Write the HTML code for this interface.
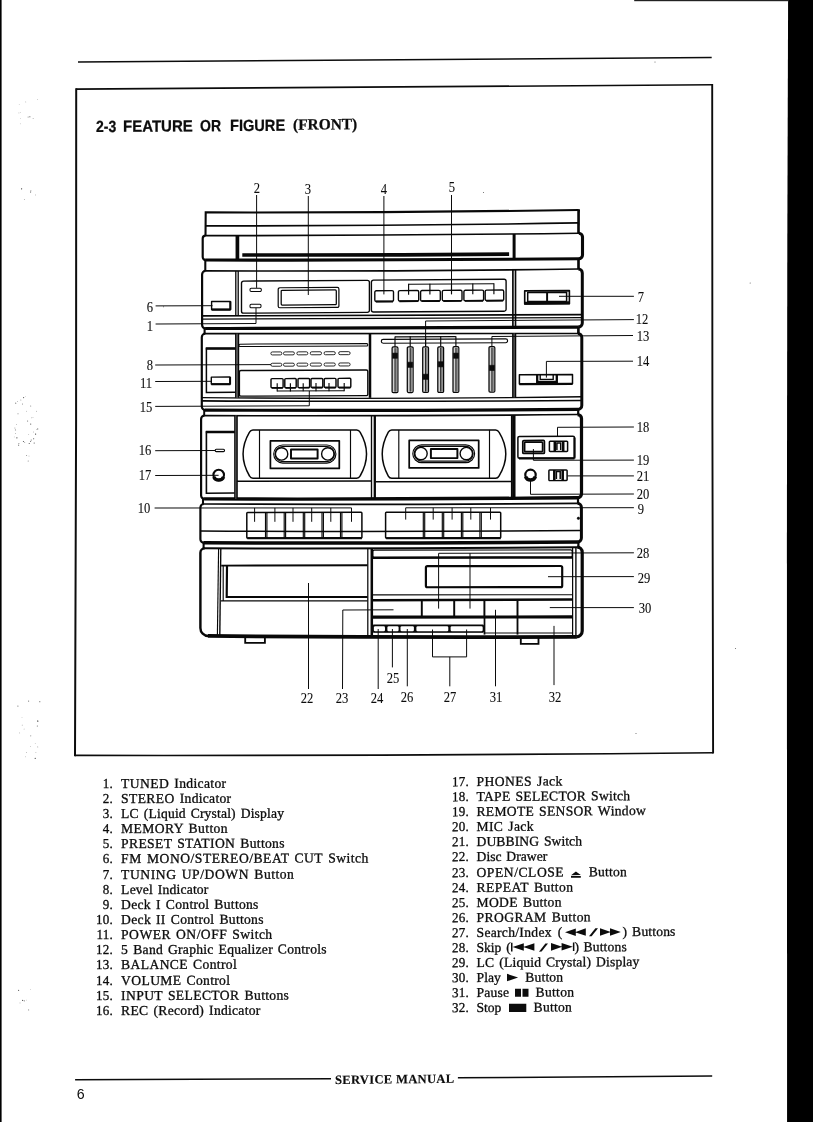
<!DOCTYPE html>
<html><head><meta charset="utf-8"><title>2-3 Feature or Figure (Front)</title>
<style>
html,body{margin:0;padding:0;background:#fff;}
body{width:813px;height:1122px;position:relative;overflow:hidden;font-family:"Liberation Serif",serif;color:#0c0c0c;}
#pg{position:absolute;left:0;top:0;width:813px;height:1122px;}
#tx{position:absolute;left:0;top:0;width:813px;height:1122px;will-change:transform;}
.t{position:absolute;white-space:nowrap;line-height:1;}
.ln{position:absolute;left:0;width:813px;white-space:nowrap;}
.p{position:absolute;top:0;white-space:pre;}
.title{height:20px;line-height:20px;transform:skewY(-0.38deg);-webkit-text-stroke:0.25px #0c0c0c;}
.tb{font-family:"Liberation Sans",sans-serif;font-weight:bold;font-size:16.2px;line-height:20px;top:0.4px;}
.ts{font-family:"Liberation Serif",serif;font-weight:bold;font-size:15.7px;line-height:20px;top:0.25px;}
.li{font-size:13.6px;height:15px;line-height:15px;transform:skewY(-0.14deg);-webkit-text-stroke:0.3px #0c0c0c;}
.lr{transform:skewY(-0.34deg);}
.li .n{position:absolute;top:0;width:30px;text-align:right;letter-spacing:0.25px;transform:scaleX(0.96);transform-origin:100% 50%;}
.u{letter-spacing:calc(var(--x,0px) + 0.06px);}
.sy{position:absolute;display:block;overflow:visible;}
.foot{height:16px;line-height:16px;transform:skewY(-0.6deg);-webkit-text-stroke:0.15px #0c0c0c;}
.ft{font-weight:bold;font-size:12.6px;line-height:16px;}
.pg{font-family:"Liberation Sans",sans-serif;font-size:14.2px;}
.c{position:absolute;white-space:nowrap;line-height:1;font-size:14.3px;-webkit-text-stroke:0.08px #0c0c0c;transform:translate(-50%,-50%) scaleX(0.88);}
</style></head>
<body>
<svg id="pg" width="813" height="1122" viewBox="0 0 813 1122">
<polygon points="788.1,0 813,0 813,1122 787.1,1122 786.9,540 787.3,250" fill="#000"/>
<rect x="634.2" y="0" width="154" height="1.2" fill="#222"/>
<rect x="0" y="0" width="1.6" height="1122" fill="#000"/>
<circle cx="25.8" cy="101.9" r="0.35" fill="#555"/>
<circle cx="37.7" cy="99.7" r="0.35" fill="#777"/>
<circle cx="18.9" cy="112.9" r="0.35" fill="#777"/>
<circle cx="20.2" cy="112.6" r="0.35" fill="#777"/>
<circle cx="33.1" cy="118.7" r="0.35" fill="#333"/>
<circle cx="19.2" cy="104.6" r="0.4" fill="#999"/>
<circle cx="28.1" cy="117.1" r="0.5" fill="#777"/>
<circle cx="20.5" cy="118.3" r="0.4" fill="#999"/>
<circle cx="20.3" cy="123.8" r="0.35" fill="#777"/>
<circle cx="29.9" cy="116.7" r="0.5" fill="#333"/>
<circle cx="30.9" cy="190.7" r="0.5" fill="#777"/>
<circle cx="35.5" cy="194.9" r="0.4" fill="#555"/>
<circle cx="30.6" cy="191.9" r="0.5" fill="#333"/>
<circle cx="24.3" cy="199.7" r="0.35" fill="#333"/>
<circle cx="21.6" cy="188.8" r="0.6" fill="#333"/>
<circle cx="14.9" cy="428.1" r="0.5" fill="#999"/>
<circle cx="30.7" cy="424.1" r="0.6" fill="#555"/>
<circle cx="34.2" cy="443.0" r="0.6" fill="#555"/>
<circle cx="15.5" cy="429.9" r="0.6" fill="#999"/>
<circle cx="31.2" cy="439.9" r="0.5" fill="#555"/>
<circle cx="36.6" cy="411.2" r="0.35" fill="#333"/>
<circle cx="15.4" cy="433.5" r="0.4" fill="#777"/>
<circle cx="23.5" cy="441.5" r="0.6" fill="#555"/>
<circle cx="18.0" cy="413.7" r="0.5" fill="#777"/>
<circle cx="33.7" cy="438.7" r="0.5" fill="#333"/>
<circle cx="37.7" cy="428.9" r="0.6" fill="#777"/>
<circle cx="17.6" cy="401.5" r="0.4" fill="#777"/>
<circle cx="14.3" cy="436.9" r="0.4" fill="#999"/>
<circle cx="20.8" cy="399.9" r="0.5" fill="#999"/>
<circle cx="36.9" cy="429.3" r="0.35" fill="#333"/>
<circle cx="35.6" cy="434.1" r="0.6" fill="#333"/>
<circle cx="23.6" cy="397.6" r="0.6" fill="#555"/>
<circle cx="18.6" cy="445.2" r="0.6" fill="#777"/>
<circle cx="16.6" cy="424.4" r="0.35" fill="#555"/>
<circle cx="27.6" cy="421.0" r="0.5" fill="#555"/>
<circle cx="15.7" cy="403.2" r="0.6" fill="#777"/>
<circle cx="29.2" cy="443.6" r="0.5" fill="#333"/>
<circle cx="16.9" cy="437.8" r="0.6" fill="#333"/>
<circle cx="25.6" cy="396.6" r="0.35" fill="#999"/>
<circle cx="31.8" cy="417.8" r="0.4" fill="#555"/>
<circle cx="18.9" cy="443.4" r="0.5" fill="#777"/>
<circle cx="30.6" cy="441.4" r="0.5" fill="#555"/>
<circle cx="30.7" cy="406.1" r="0.5" fill="#777"/>
<circle cx="22.5" cy="404.0" r="0.5" fill="#777"/>
<circle cx="28.7" cy="434.6" r="0.4" fill="#777"/>
<circle cx="33.6" cy="432.0" r="0.4" fill="#777"/>
<circle cx="26.4" cy="411.2" r="0.35" fill="#555"/>
<circle cx="33.0" cy="417.5" r="0.4" fill="#999"/>
<circle cx="24.7" cy="442.6" r="0.5" fill="#999"/>
<circle cx="17.9" cy="706.1" r="0.6" fill="#777"/>
<circle cx="24.1" cy="729.0" r="0.35" fill="#333"/>
<circle cx="37.8" cy="720.6" r="0.35" fill="#555"/>
<circle cx="37.8" cy="746.9" r="0.4" fill="#333"/>
<circle cx="37.3" cy="726.0" r="0.5" fill="#555"/>
<circle cx="35.2" cy="758.3" r="0.6" fill="#333"/>
<circle cx="25.6" cy="756.8" r="0.4" fill="#777"/>
<circle cx="39.8" cy="701.7" r="0.6" fill="#777"/>
<circle cx="30.7" cy="735.8" r="0.6" fill="#999"/>
<circle cx="19.7" cy="732.9" r="0.35" fill="#555"/>
<circle cx="35.2" cy="743.6" r="0.35" fill="#777"/>
<circle cx="26.4" cy="752.3" r="0.4" fill="#555"/>
<circle cx="22.0" cy="717.6" r="0.4" fill="#999"/>
<circle cx="22.2" cy="725.1" r="0.4" fill="#555"/>
<circle cx="37.8" cy="721.2" r="0.6" fill="#333"/>
<circle cx="35.9" cy="752.7" r="0.4" fill="#777"/>
<circle cx="28.6" cy="701.1" r="0.6" fill="#777"/>
<circle cx="30.6" cy="746.6" r="0.4" fill="#777"/>
<circle cx="20.0" cy="1002.9" r="0.35" fill="#555"/>
<circle cx="22.6" cy="1000.4" r="0.6" fill="#555"/>
<circle cx="30.4" cy="989.4" r="0.4" fill="#999"/>
<circle cx="18.6" cy="990.3" r="0.6" fill="#555"/>
<circle cx="28.6" cy="1009.9" r="0.6" fill="#999"/>
<circle cx="26.6" cy="1000.1" r="0.4" fill="#999"/>
<circle cx="24.3" cy="1000.8" r="0.6" fill="#777"/>
<circle cx="28.2" cy="461.1" r="0.5" fill="#777"/>
<circle cx="29.0" cy="456.0" r="0.35" fill="#333"/>
<circle cx="26.7" cy="455.5" r="0.4" fill="#333"/>
<circle cx="483.5" cy="192.5" r="0.55" fill="#666"/>
<circle cx="750.2" cy="283.0" r="0.55" fill="#666"/>
<circle cx="735.5" cy="648.5" r="0.55" fill="#666"/>
<circle cx="163.5" cy="306.8" r="0.55" fill="#666"/>
<circle cx="636.0" cy="733.5" r="0.55" fill="#666"/>
<circle cx="655" cy="62" r="0.55" fill="#666"/>
<path d="M78 62.0 Q394 59.95 711.7 57.5" fill="none" stroke="#0c0c0c" stroke-width="1.6"/>
<path d="M76.2 89.1 Q394.2 87.85 712.2 84.8" fill="none" stroke="#0c0c0c" stroke-width="1.6"/>
<path d="M75.0 755.4 Q394 755.9 713.1 752.8" fill="none" stroke="#0c0c0c" stroke-width="1.6"/>
<path d="M76.2 88.3 L76.1 420 L75.0 756.2" fill="none" stroke="#0c0c0c" stroke-width="2.0"/>
<path d="M712.2 84.0 L712.4 420 L713.1 753.6" fill="none" stroke="#0c0c0c" stroke-width="1.9"/>
<line x1="75.1" y1="1079.8" x2="331.0" y2="1078.7" stroke="#0c0c0c" stroke-width="1.45"/>
<line x1="457.9" y1="1077.8" x2="712.2" y2="1076.0" stroke="#0c0c0c" stroke-width="1.45"/>
<path d="M205.5 236.0 L205.7 212.4 Q392 212.8 578.6 209.95" fill="none" stroke="#080808" stroke-width="2.07" stroke-linejoin="miter"/>
<path d="M578.6 209.95 L578.5 233.6" fill="none" stroke="#080808" stroke-width="2.64" stroke-linejoin="miter"/>
<line x1="578.6" y1="209.2" x2="578.6" y2="211" stroke="#080808" stroke-width="2.64" stroke-linecap="butt"/>
<path d="M205.7 225.9 Q392 226.0 578.5 222.9" fill="none" stroke="#080808" stroke-width="1.61" stroke-linejoin="round"/>
<path d="M205.7 235.6 A3 3 0 0 0 202.7 238.6 L202.7 257 A3 3 0 0 0 205.7 260.01" fill="none" stroke="#080808" stroke-width="2.18" stroke-linejoin="round"/>
<path d="M578.8 233.22 A3.7 3.7 0 0 1 582.5 236.87 L582.5 254.98 A3.7 3.7 0 0 1 578.8 258.71" fill="none" stroke="#080808" stroke-width="3.10" stroke-linejoin="round"/>
<path d="M205.4 235.6 Q392.25 235.58 579.1 233.21" fill="none" stroke="#080808" stroke-width="1.67" stroke-linejoin="round"/>
<path d="M205.2 260.01 Q392.25 260.54 579.3 258.71" fill="none" stroke="#080808" stroke-width="3.10" stroke-linejoin="round"/>
<line x1="237.4" y1="235.58" x2="237.4" y2="260.08" stroke="#080808" stroke-width="3.68" stroke-linecap="butt"/>
<line x1="514.1" y1="233.97" x2="514.1" y2="259.27" stroke="#080808" stroke-width="2.99" stroke-linecap="butt"/>
<path d="M242.3 255.0 Q375.7 255.3 509.1 254.1" fill="none" stroke="#080808" stroke-width="3.56" stroke-linejoin="round"/>
<line x1="205.3" y1="259.8" x2="205.3" y2="271.2" stroke="#080808" stroke-width="2.07" stroke-linecap="butt"/>
<line x1="578.5" y1="258.4" x2="578.5" y2="269.3" stroke="#080808" stroke-width="2.64" stroke-linecap="butt"/>
<path d="M205.6 270.91 A3.5 3.5 0 0 0 202.1 274.4 L202.1 325 A3.5 3.5 0 0 0 205.6 328.5" fill="none" stroke="#080808" stroke-width="2.18" stroke-linejoin="round"/>
<path d="M578.3 269.02 A4 4 0 0 1 582.3 272.97 L582.3 323.08 A4 4 0 0 1 578.3 327.11" fill="none" stroke="#080808" stroke-width="2.99" stroke-linejoin="round"/>
<path d="M205.3 270.91 Q391.95 271.53 578.6 269.02" fill="none" stroke="#080808" stroke-width="1.67" stroke-linejoin="round"/>
<path d="M205.1 328.5 Q391.95 328.59 578.8 327.11" fill="none" stroke="#080808" stroke-width="3.10" stroke-linejoin="round"/>
<path d="M202.5 315.9 Q392.25 315.85 582 314.59" fill="none" stroke="#080808" stroke-width="1.61" stroke-linejoin="round"/>
<path d="M202.5 319.1 Q392.25 318.85 582 317.59" fill="none" stroke="#080808" stroke-width="1.26" stroke-linejoin="round"/>
<line x1="235.8" y1="270.99" x2="235.8" y2="315.98" stroke="#080808" stroke-width="1.32" stroke-linecap="butt"/>
<line x1="238.2" y1="270.99" x2="238.2" y2="315.98" stroke="#080808" stroke-width="1.32" stroke-linecap="butt"/>
<path d="M211.6 301.56 L230.3 301.44 L230.3 309.44 L211.6 309.56 Z" fill="none" stroke="#080808" stroke-width="1.38" stroke-linejoin="round"/>
<line x1="211.6" y1="309.66" x2="230.6" y2="309.54" stroke="#080808" stroke-width="2.18" stroke-linecap="butt"/>
<line x1="230.4" y1="301.4" x2="230.4" y2="309.8" stroke="#080808" stroke-width="2.07" stroke-linecap="butt"/>
<path d="M243.5 281.07 L367.4 280.33 A2 2 0 0 1 369.4 282.32 L369.4 310.42 A2 2 0 0 1 367.4 312.43 L243.5 313.17 A2 2 0 0 1 241.5 311.18 L241.5 283.08 A2 2 0 0 1 243.5 281.07 Z" fill="none" stroke="#080808" stroke-width="1.38" stroke-linejoin="round"/>
<path d="M251.2 288.23 L260.1 288.17 A1.2 1.2 0 0 1 261.3 289.37 L261.3 290.27 A1.2 1.2 0 0 1 260.1 291.47 L251.2 291.53 A1.2 1.2 0 0 1 250 290.33 L250 289.43 A1.2 1.2 0 0 1 251.2 288.23 Z" fill="none" stroke="#080808" stroke-width="1.03" stroke-linejoin="round"/>
<path d="M251.2 304.33 L259.8 304.27 A1.2 1.2 0 0 1 261 305.47 L261 306.57 A1.2 1.2 0 0 1 259.8 307.77 L251.2 307.83 A1.2 1.2 0 0 1 250 306.63 L250 305.53 A1.2 1.2 0 0 1 251.2 304.33 Z" fill="none" stroke="#080808" stroke-width="1.03" stroke-linejoin="round"/>
<path d="M279.7 287.77 L337.4 287.43 A1.5 1.5 0 0 1 338.9 288.92 L338.9 305.92 A1.5 1.5 0 0 1 337.4 307.43 L279.7 307.77 A1.5 1.5 0 0 1 278.2 306.28 L278.2 289.28 A1.5 1.5 0 0 1 279.7 287.77 Z" fill="none" stroke="#080808" stroke-width="1.21" stroke-linejoin="round"/>
<path d="M282.2 290.26 L335.3 289.94 A1 1 0 0 1 336.3 290.93 L336.3 303.73 A1 1 0 0 1 335.3 304.74 L282.2 305.06 A1 1 0 0 1 281.2 304.07 L281.2 291.27 A1 1 0 0 1 282.2 290.26 Z" fill="none" stroke="#080808" stroke-width="1.26" stroke-linejoin="round"/>
<path d="M373.4 280.09 L504.1 279.31 A2 2 0 0 1 506.1 281.3 L506.1 309.2 A2 2 0 0 1 504.1 311.21 L373.4 311.99 A2 2 0 0 1 371.4 310 L371.4 282.1 A2 2 0 0 1 373.4 280.09 Z" fill="none" stroke="#080808" stroke-width="1.38" stroke-linejoin="round"/>
<path d="M376.2 290.75 L392.1 290.65 A1.4 1.4 0 0 1 393.5 292.04 L393.5 299.94 A1.4 1.4 0 0 1 392.1 301.35 L376.2 301.45 A1.4 1.4 0 0 1 374.8 300.06 L374.8 292.16 A1.4 1.4 0 0 1 376.2 290.75 Z" fill="none" stroke="#080808" stroke-width="1.38" stroke-linejoin="round"/>
<line x1="375.8" y1="301.55" x2="393" y2="301.45" stroke="#080808" stroke-width="1.95" stroke-linecap="butt"/>
<path d="M399.8 290.66 L417.3 290.56 A1.4 1.4 0 0 1 418.7 291.95 L418.7 299.65 A1.4 1.4 0 0 1 417.3 301.06 L399.8 301.16 A1.4 1.4 0 0 1 398.4 299.77 L398.4 292.07 A1.4 1.4 0 0 1 399.8 290.66 Z" fill="none" stroke="#080808" stroke-width="1.38" stroke-linejoin="round"/>
<line x1="399.4" y1="301.27" x2="418.2" y2="301.15" stroke="#080808" stroke-width="1.95" stroke-linecap="butt"/>
<path d="M422 290.53 L438.9 290.43 A1.4 1.4 0 0 1 440.3 291.82 L440.3 299.52 A1.4 1.4 0 0 1 438.9 300.93 L422 301.03 A1.4 1.4 0 0 1 420.6 299.64 L420.6 291.94 A1.4 1.4 0 0 1 422 290.53 Z" fill="none" stroke="#080808" stroke-width="1.38" stroke-linejoin="round"/>
<line x1="421.6" y1="301.13" x2="439.8" y2="301.02" stroke="#080808" stroke-width="1.95" stroke-linecap="butt"/>
<path d="M443.7 290.4 L460.6 290.3 A1.4 1.4 0 0 1 462 291.69 L462 299.39 A1.4 1.4 0 0 1 460.6 300.8 L443.7 300.9 A1.4 1.4 0 0 1 442.3 299.51 L442.3 291.81 A1.4 1.4 0 0 1 443.7 290.4 Z" fill="none" stroke="#080808" stroke-width="1.38" stroke-linejoin="round"/>
<line x1="443.3" y1="301" x2="461.5" y2="300.89" stroke="#080808" stroke-width="1.95" stroke-linecap="butt"/>
<path d="M465.3 290.27 L482.2 290.17 A1.4 1.4 0 0 1 483.6 291.56 L483.6 299.26 A1.4 1.4 0 0 1 482.2 300.67 L465.3 300.77 A1.4 1.4 0 0 1 463.9 299.38 L463.9 291.68 A1.4 1.4 0 0 1 465.3 290.27 Z" fill="none" stroke="#080808" stroke-width="1.38" stroke-linejoin="round"/>
<line x1="464.9" y1="300.87" x2="483.1" y2="300.76" stroke="#080808" stroke-width="1.95" stroke-linecap="butt"/>
<path d="M486.6 290.14 L502.3 290.05 A1.4 1.4 0 0 1 503.7 291.44 L503.7 299.14 A1.4 1.4 0 0 1 502.3 300.55 L486.6 300.64 A1.4 1.4 0 0 1 485.2 299.25 L485.2 291.55 A1.4 1.4 0 0 1 486.6 290.14 Z" fill="none" stroke="#080808" stroke-width="1.38" stroke-linejoin="round"/>
<line x1="486.2" y1="300.74" x2="503.2" y2="300.64" stroke="#080808" stroke-width="1.95" stroke-linecap="butt"/>
<line x1="408.6" y1="284.25" x2="493.9" y2="283.74" stroke="#080808" stroke-width="1.15" stroke-linecap="butt"/>
<line x1="408.6" y1="283.85" x2="408.6" y2="294.65" stroke="#080808" stroke-width="1.15" stroke-linecap="butt"/>
<line x1="429.9" y1="283.73" x2="429.9" y2="294.53" stroke="#080808" stroke-width="1.15" stroke-linecap="butt"/>
<line x1="451.5" y1="283.6" x2="451.5" y2="294.4" stroke="#080808" stroke-width="1.15" stroke-linecap="butt"/>
<line x1="472.8" y1="283.47" x2="472.8" y2="294.27" stroke="#080808" stroke-width="1.15" stroke-linecap="butt"/>
<line x1="493.9" y1="283.34" x2="493.9" y2="294.14" stroke="#080808" stroke-width="1.15" stroke-linecap="butt"/>
<line x1="512.9" y1="269.81" x2="512.9" y2="327.58" stroke="#080808" stroke-width="1.67" stroke-linecap="butt"/>
<line x1="515.5" y1="269.78" x2="515.5" y2="327.57" stroke="#080808" stroke-width="1.67" stroke-linecap="butt"/>
<path d="M524.7 290.83 L569.4 290.57 L569.4 303.77 L524.7 304.03 Z" fill="none" stroke="#080808" stroke-width="1.61" stroke-linejoin="round"/>
<path d="M527.7 292.52 L566.6 292.28 L566.6 301.18 L527.7 301.42 Z" fill="none" stroke="#080808" stroke-width="1.49" stroke-linejoin="round"/>
<line x1="547.1" y1="292.3" x2="547.1" y2="301.4" stroke="#080808" stroke-width="1.95" stroke-linecap="butt"/>
<line x1="524.3" y1="303.14" x2="569.8" y2="302.86" stroke="#080808" stroke-width="2.99" stroke-linecap="butt"/>
<line x1="204.6" y1="328.5" x2="204.6" y2="333.9" stroke="#080808" stroke-width="2.07" stroke-linecap="butt"/>
<line x1="578.4" y1="327" x2="578.4" y2="333.6" stroke="#080808" stroke-width="2.64" stroke-linecap="butt"/>
<path d="M205.3 333.65 A3.5 3.5 0 0 0 201.8 337.15 L201.8 406.59 A3.5 3.5 0 0 0 205.3 410.11" fill="none" stroke="#080808" stroke-width="2.18" stroke-linejoin="round"/>
<path d="M577.8 333.5 A4 4 0 0 1 581.8 337.5 L581.8 405.39 A4 4 0 0 1 577.8 409.42" fill="none" stroke="#080808" stroke-width="2.99" stroke-linejoin="round"/>
<path d="M205 333.65 Q391.55 333.57 578.1 333.5" fill="none" stroke="#080808" stroke-width="1.67" stroke-linejoin="round"/>
<path d="M204.8 410.11 Q391.55 410.94 578.3 409.41" fill="none" stroke="#080808" stroke-width="3.10" stroke-linejoin="round"/>
<path d="M201.8 397.59 Q391.65 399.42 581.5 396.78" fill="none" stroke="#080808" stroke-width="1.38" stroke-linejoin="round"/>
<path d="M201.8 400.89 Q391.65 401.91 581.5 400.49" fill="none" stroke="#080808" stroke-width="1.61" stroke-linejoin="round"/>
<path d="M235.3 392.2 L206.4 392.4 L206.4 348.6 L235.3 348.4" fill="none" stroke="#080808" stroke-width="1.49" stroke-linejoin="miter"/>
<line x1="205.8" y1="348.56" x2="235.5" y2="348.44" stroke="#080808" stroke-width="2.53" stroke-linecap="butt"/>
<path d="M211.3 377.14 L230 377.06 L230 383.96 L211.3 384.04 Z" fill="none" stroke="#080808" stroke-width="1.38" stroke-linejoin="round"/>
<line x1="211.3" y1="384.24" x2="230.3" y2="384.16" stroke="#080808" stroke-width="2.07" stroke-linecap="butt"/>
<line x1="230.1" y1="377" x2="230.1" y2="384.5" stroke="#080808" stroke-width="1.95" stroke-linecap="butt"/>
<line x1="237.1" y1="333.64" x2="237.1" y2="397.72" stroke="#777" stroke-width="1.61" stroke-linecap="butt"/>
<line x1="235.8" y1="333.64" x2="235.8" y2="397.72" stroke="#080808" stroke-width="1.49" stroke-linecap="butt"/>
<line x1="238.4" y1="333.64" x2="238.4" y2="397.72" stroke="#080808" stroke-width="1.61" stroke-linecap="butt"/>
<path d="M239.9 344.14 L366.8 343.63 A1 1 0 0 1 367.8 344.63 L367.8 345.03 A1 1 0 0 1 366.8 346.03 L239.9 346.54 A1 1 0 0 1 238.9 345.54 L238.9 345.14 A1 1 0 0 1 239.9 344.14 Z" fill="none" stroke="#080808" stroke-width="1.03" stroke-linejoin="round"/>
<path d="M272.3 351.95 L280.4 351.92 A1.4 1.4 0 0 1 281.8 353.31 L281.8 353.51 A1.4 1.4 0 0 1 280.4 354.92 L272.3 354.95 A1.4 1.4 0 0 1 270.9 353.56 L270.9 353.36 A1.4 1.4 0 0 1 272.3 351.95 Z" fill="none" stroke="#080808" stroke-width="0.86" stroke-linejoin="round"/>
<path d="M272.3 363.25 L280.4 363.22 A1.4 1.4 0 0 1 281.8 364.61 L281.8 364.81 A1.4 1.4 0 0 1 280.4 366.22 L272.3 366.25 A1.4 1.4 0 0 1 270.9 364.86 L270.9 364.66 A1.4 1.4 0 0 1 272.3 363.25 Z" fill="none" stroke="#080808" stroke-width="0.86" stroke-linejoin="round"/>
<path d="M284.9 351.9 L293 351.87 A1.4 1.4 0 0 1 294.4 353.26 L294.4 353.46 A1.4 1.4 0 0 1 293 354.87 L284.9 354.9 A1.4 1.4 0 0 1 283.5 353.51 L283.5 353.31 A1.4 1.4 0 0 1 284.9 351.9 Z" fill="none" stroke="#080808" stroke-width="0.86" stroke-linejoin="round"/>
<path d="M284.9 363.2 L293 363.17 A1.4 1.4 0 0 1 294.4 364.56 L294.4 364.76 A1.4 1.4 0 0 1 293 366.17 L284.9 366.2 A1.4 1.4 0 0 1 283.5 364.81 L283.5 364.61 A1.4 1.4 0 0 1 284.9 363.2 Z" fill="none" stroke="#080808" stroke-width="0.86" stroke-linejoin="round"/>
<path d="M298.3 351.85 L306.4 351.81 A1.4 1.4 0 0 1 307.8 353.21 L307.8 353.41 A1.4 1.4 0 0 1 306.4 354.81 L298.3 354.85 A1.4 1.4 0 0 1 296.9 353.45 L296.9 353.25 A1.4 1.4 0 0 1 298.3 351.85 Z" fill="none" stroke="#080808" stroke-width="0.86" stroke-linejoin="round"/>
<path d="M298.3 363.15 L306.4 363.11 A1.4 1.4 0 0 1 307.8 364.51 L307.8 364.71 A1.4 1.4 0 0 1 306.4 366.11 L298.3 366.15 A1.4 1.4 0 0 1 296.9 364.75 L296.9 364.55 A1.4 1.4 0 0 1 298.3 363.15 Z" fill="none" stroke="#080808" stroke-width="0.86" stroke-linejoin="round"/>
<path d="M311.7 351.79 L320.1 351.76 A1.4 1.4 0 0 1 321.5 353.15 L321.5 353.35 A1.4 1.4 0 0 1 320.1 354.76 L311.7 354.79 A1.4 1.4 0 0 1 310.3 353.4 L310.3 353.2 A1.4 1.4 0 0 1 311.7 351.79 Z" fill="none" stroke="#080808" stroke-width="0.86" stroke-linejoin="round"/>
<path d="M311.7 363.09 L320.1 363.06 A1.4 1.4 0 0 1 321.5 364.45 L321.5 364.65 A1.4 1.4 0 0 1 320.1 366.06 L311.7 366.09 A1.4 1.4 0 0 1 310.3 364.7 L310.3 364.5 A1.4 1.4 0 0 1 311.7 363.09 Z" fill="none" stroke="#080808" stroke-width="0.86" stroke-linejoin="round"/>
<path d="M325.5 351.74 L333.9 351.7 A1.4 1.4 0 0 1 335.3 353.1 L335.3 353.3 A1.4 1.4 0 0 1 333.9 354.7 L325.5 354.74 A1.4 1.4 0 0 1 324.1 353.34 L324.1 353.14 A1.4 1.4 0 0 1 325.5 351.74 Z" fill="none" stroke="#080808" stroke-width="0.86" stroke-linejoin="round"/>
<path d="M325.5 363.04 L333.9 363 A1.4 1.4 0 0 1 335.3 364.4 L335.3 364.6 A1.4 1.4 0 0 1 333.9 366 L325.5 366.04 A1.4 1.4 0 0 1 324.1 364.64 L324.1 364.44 A1.4 1.4 0 0 1 325.5 363.04 Z" fill="none" stroke="#080808" stroke-width="0.86" stroke-linejoin="round"/>
<path d="M340.1 351.68 L348.7 351.65 A1.4 1.4 0 0 1 350.1 353.04 L350.1 353.24 A1.4 1.4 0 0 1 348.7 354.65 L340.1 354.68 A1.4 1.4 0 0 1 338.7 353.29 L338.7 353.09 A1.4 1.4 0 0 1 340.1 351.68 Z" fill="none" stroke="#080808" stroke-width="0.86" stroke-linejoin="round"/>
<path d="M340.1 362.98 L348.7 362.95 A1.4 1.4 0 0 1 350.1 364.34 L350.1 364.54 A1.4 1.4 0 0 1 348.7 365.95 L340.1 365.98 A1.4 1.4 0 0 1 338.7 364.59 L338.7 364.39 A1.4 1.4 0 0 1 340.1 362.98 Z" fill="none" stroke="#080808" stroke-width="0.86" stroke-linejoin="round"/>
<path d="M240.9 370.54 L366.3 370.03 A1.5 1.5 0 0 1 367.8 371.53 L367.8 394.13 A1.5 1.5 0 0 1 366.3 395.63 L240.9 396.14 A1.5 1.5 0 0 1 239.4 394.64 L239.4 372.04 A1.5 1.5 0 0 1 240.9 370.54 Z" fill="none" stroke="#080808" stroke-width="1.38" stroke-linejoin="round"/>
<path d="M272 378.65 L282.1 378.61 A1.0 1.0 0 0 1 283.1 379.61 L283.1 386.71 A1.0 1.0 0 0 1 282.1 387.71 L272 387.75 A1.0 1.0 0 0 1 271 386.76 L271 379.66 A1.0 1.0 0 0 1 272 378.65 Z" fill="none" stroke="#080808" stroke-width="1.44" stroke-linejoin="round"/>
<line x1="271.8" y1="387.85" x2="282.8" y2="387.81" stroke="#080808" stroke-width="1.72" stroke-linecap="butt"/>
<path d="M285.8 378.6 L295.2 378.56 A1.0 1.0 0 0 1 296.2 379.56 L296.2 386.66 A1.0 1.0 0 0 1 295.2 387.66 L285.8 387.7 A1.0 1.0 0 0 1 284.8 386.7 L284.8 379.6 A1.0 1.0 0 0 1 285.8 378.6 Z" fill="none" stroke="#080808" stroke-width="1.44" stroke-linejoin="round"/>
<line x1="285.6" y1="387.8" x2="295.9" y2="387.76" stroke="#080808" stroke-width="1.72" stroke-linecap="butt"/>
<path d="M299 378.54 L308.6 378.51 A1.0 1.0 0 0 1 309.6 379.5 L309.6 386.6 A1.0 1.0 0 0 1 308.6 387.61 L299 387.64 A1.0 1.0 0 0 1 298 386.65 L298 379.55 A1.0 1.0 0 0 1 299 378.54 Z" fill="none" stroke="#080808" stroke-width="1.44" stroke-linejoin="round"/>
<line x1="298.8" y1="387.75" x2="309.3" y2="387.7" stroke="#080808" stroke-width="1.72" stroke-linecap="butt"/>
<path d="M312 378.49 L321.8 378.45 A1.0 1.0 0 0 1 322.8 379.45 L322.8 386.55 A1.0 1.0 0 0 1 321.8 387.55 L312 387.59 A1.0 1.0 0 0 1 311 386.6 L311 379.5 A1.0 1.0 0 0 1 312 378.49 Z" fill="none" stroke="#080808" stroke-width="1.44" stroke-linejoin="round"/>
<line x1="311.8" y1="387.69" x2="322.5" y2="387.65" stroke="#080808" stroke-width="1.72" stroke-linecap="butt"/>
<path d="M325.2 378.44 L335 378.4 A1.0 1.0 0 0 1 336 379.4 L336 386.5 A1.0 1.0 0 0 1 335 387.5 L325.2 387.54 A1.0 1.0 0 0 1 324.2 386.54 L324.2 379.44 A1.0 1.0 0 0 1 325.2 378.44 Z" fill="none" stroke="#080808" stroke-width="1.44" stroke-linejoin="round"/>
<line x1="325" y1="387.64" x2="335.7" y2="387.6" stroke="#080808" stroke-width="1.72" stroke-linecap="butt"/>
<path d="M339 378.38 L349.8 378.34 A1.0 1.0 0 0 1 350.8 379.34 L350.8 386.44 A1.0 1.0 0 0 1 349.8 387.44 L339 387.48 A1.0 1.0 0 0 1 338 386.49 L338 379.39 A1.0 1.0 0 0 1 339 378.38 Z" fill="none" stroke="#080808" stroke-width="1.44" stroke-linejoin="round"/>
<line x1="338.8" y1="387.59" x2="350.5" y2="387.54" stroke="#080808" stroke-width="1.72" stroke-linecap="butt"/>
<line x1="277.2" y1="391.03" x2="344.2" y2="390.76" stroke="#080808" stroke-width="1.15" stroke-linecap="butt"/>
<line x1="277.2" y1="383.23" x2="277.2" y2="391.43" stroke="#080808" stroke-width="1.15" stroke-linecap="butt"/>
<line x1="290.4" y1="383.18" x2="290.4" y2="391.38" stroke="#080808" stroke-width="1.15" stroke-linecap="butt"/>
<line x1="303.2" y1="383.13" x2="303.2" y2="391.33" stroke="#080808" stroke-width="1.15" stroke-linecap="butt"/>
<line x1="316" y1="383.08" x2="316" y2="391.28" stroke="#080808" stroke-width="1.15" stroke-linecap="butt"/>
<line x1="329" y1="383.02" x2="329" y2="391.22" stroke="#080808" stroke-width="1.15" stroke-linecap="butt"/>
<line x1="344.2" y1="382.96" x2="344.2" y2="391.16" stroke="#080808" stroke-width="1.15" stroke-linecap="butt"/>
<line x1="370" y1="333.58" x2="370" y2="397.84" stroke="#080808" stroke-width="2.53" stroke-linecap="butt"/>
<path d="M383.2 339.43 L505.7 338.94 A1.9 1.9 0 0 1 507.6 340.83 L507.6 340.83 A1.9 1.9 0 0 1 505.7 342.74 L383.2 343.23 A1.9 1.9 0 0 1 381.3 341.33 L381.3 341.33 A1.9 1.9 0 0 1 383.2 339.43 Z" fill="none" stroke="#080808" stroke-width="1.15" stroke-linejoin="round"/>
<line x1="395" y1="336.82" x2="455.9" y2="336.58" stroke="#080808" stroke-width="1.15" stroke-linecap="butt"/>
<line x1="395" y1="336.42" x2="395" y2="347" stroke="#080808" stroke-width="1.15" stroke-linecap="butt"/>
<line x1="410.2" y1="336.36" x2="410.2" y2="347" stroke="#080808" stroke-width="1.15" stroke-linecap="butt"/>
<line x1="425.6" y1="336.3" x2="425.6" y2="347" stroke="#080808" stroke-width="1.15" stroke-linecap="butt"/>
<line x1="440.7" y1="336.24" x2="440.7" y2="347" stroke="#080808" stroke-width="1.15" stroke-linecap="butt"/>
<line x1="455.9" y1="336.18" x2="455.9" y2="347" stroke="#080808" stroke-width="1.15" stroke-linecap="butt"/>
<path d="M393.3 346.98 L396.7 346.98 A1.2 1.2 0 0 1 397.9 348.18 L397.9 391.38 A1.2 1.2 0 0 1 396.7 392.58 L393.3 392.58 A1.2 1.2 0 0 1 392.1 391.38 L392.1 348.18 A1.2 1.2 0 0 1 393.3 346.98 Z" fill="#cfcfcf" stroke="#080808" stroke-width="1.26" stroke-linejoin="round"/>
<rect x="395.3" y="348.18" width="2.0" height="43.4" fill="#8f8f8f"/>
<line x1="395" y1="348.18" x2="395" y2="391.68" stroke="#080808" stroke-width="0.92" stroke-linecap="butt"/>
<path d="M392.5 353.1 L397.5 353.1 L397.5 358.3 L392.5 358.3 Z" fill="#0c0c0c" stroke="#080808" stroke-width="0.57" stroke-linejoin="round"/>
<path d="M408.5 346.92 L411.9 346.92 A1.2 1.2 0 0 1 413.1 348.12 L413.1 391.32 A1.2 1.2 0 0 1 411.9 392.52 L408.5 392.52 A1.2 1.2 0 0 1 407.3 391.32 L407.3 348.12 A1.2 1.2 0 0 1 408.5 346.92 Z" fill="#cfcfcf" stroke="#080808" stroke-width="1.26" stroke-linejoin="round"/>
<rect x="410.5" y="348.12" width="2.0" height="43.4" fill="#8f8f8f"/>
<line x1="410.2" y1="348.12" x2="410.2" y2="391.62" stroke="#080808" stroke-width="0.92" stroke-linecap="butt"/>
<path d="M407.7 362.2 L412.7 362.2 L412.7 367.4 L407.7 367.4 Z" fill="#0c0c0c" stroke="#080808" stroke-width="0.57" stroke-linejoin="round"/>
<path d="M423.9 346.86 L427.3 346.86 A1.2 1.2 0 0 1 428.5 348.06 L428.5 391.26 A1.2 1.2 0 0 1 427.3 392.46 L423.9 392.46 A1.2 1.2 0 0 1 422.7 391.26 L422.7 348.06 A1.2 1.2 0 0 1 423.9 346.86 Z" fill="#cfcfcf" stroke="#080808" stroke-width="1.26" stroke-linejoin="round"/>
<rect x="425.9" y="348.06" width="2.0" height="43.4" fill="#8f8f8f"/>
<line x1="425.6" y1="348.06" x2="425.6" y2="391.56" stroke="#080808" stroke-width="0.92" stroke-linecap="butt"/>
<path d="M423.1 374.2 L428.1 374.2 L428.1 379.4 L423.1 379.4 Z" fill="#0c0c0c" stroke="#080808" stroke-width="0.57" stroke-linejoin="round"/>
<path d="M439 346.8 L442.4 346.8 A1.2 1.2 0 0 1 443.6 348 L443.6 391.2 A1.2 1.2 0 0 1 442.4 392.4 L439 392.4 A1.2 1.2 0 0 1 437.8 391.2 L437.8 348 A1.2 1.2 0 0 1 439 346.8 Z" fill="#cfcfcf" stroke="#080808" stroke-width="1.26" stroke-linejoin="round"/>
<rect x="441" y="348" width="2.0" height="43.4" fill="#8f8f8f"/>
<line x1="440.7" y1="348" x2="440.7" y2="391.5" stroke="#080808" stroke-width="0.92" stroke-linecap="butt"/>
<path d="M438.2 361.7 L443.2 361.7 L443.2 366.9 L438.2 366.9 Z" fill="#0c0c0c" stroke="#080808" stroke-width="0.57" stroke-linejoin="round"/>
<path d="M454.2 346.74 L457.6 346.74 A1.2 1.2 0 0 1 458.8 347.94 L458.8 391.14 A1.2 1.2 0 0 1 457.6 392.34 L454.2 392.34 A1.2 1.2 0 0 1 453 391.14 L453 347.94 A1.2 1.2 0 0 1 454.2 346.74 Z" fill="#cfcfcf" stroke="#080808" stroke-width="1.26" stroke-linejoin="round"/>
<rect x="456.2" y="347.94" width="2.0" height="43.4" fill="#8f8f8f"/>
<line x1="455.9" y1="347.94" x2="455.9" y2="391.44" stroke="#080808" stroke-width="0.92" stroke-linecap="butt"/>
<path d="M453.4 353.1 L458.4 353.1 L458.4 358.3 L453.4 358.3 Z" fill="#0c0c0c" stroke="#080808" stroke-width="0.57" stroke-linejoin="round"/>
<path d="M490.2 346.59 L493.6 346.59 A1.2 1.2 0 0 1 494.8 347.79 L494.8 390.99 A1.2 1.2 0 0 1 493.6 392.19 L490.2 392.19 A1.2 1.2 0 0 1 489 390.99 L489 347.79 A1.2 1.2 0 0 1 490.2 346.59 Z" fill="#cfcfcf" stroke="#080808" stroke-width="1.26" stroke-linejoin="round"/>
<rect x="492.2" y="347.79" width="2.0" height="43.4" fill="#8f8f8f"/>
<line x1="491.9" y1="347.79" x2="491.9" y2="391.29" stroke="#080808" stroke-width="0.92" stroke-linecap="butt"/>
<path d="M489.4 365.3 L494.4 365.3 L494.4 370.5 L489.4 370.5 Z" fill="#0c0c0c" stroke="#080808" stroke-width="0.57" stroke-linejoin="round"/>
<line x1="514.1" y1="333.53" x2="514.1" y2="397.29" stroke="#777" stroke-width="1.61" stroke-linecap="butt"/>
<line x1="512.9" y1="333.53" x2="512.9" y2="397.29" stroke="#080808" stroke-width="1.61" stroke-linecap="butt"/>
<line x1="515.4" y1="333.53" x2="515.4" y2="397.29" stroke="#080808" stroke-width="1.72" stroke-linecap="butt"/>
<path d="M519.4 374.71 L572.5 374.49 L572.5 383.79 L519.4 384.01 Z" fill="none" stroke="#080808" stroke-width="1.49" stroke-linejoin="round"/>
<path d="M537.2 374.6 L537.2 382.0 L556.8 381.9 L556.8 374.5" fill="none" stroke="#080808" stroke-width="2.30" stroke-linejoin="miter"/>
<path d="M540.2 374.6 L540.2 379.4 L553.2 379.3 L553.2 374.5" fill="none" stroke="#080808" stroke-width="1.38" stroke-linejoin="miter"/>
<line x1="519.4" y1="384.11" x2="572.5" y2="383.89" stroke="#080808" stroke-width="2.07" stroke-linecap="butt"/>
<line x1="204.2" y1="410" x2="204.2" y2="415.8" stroke="#080808" stroke-width="1.95" stroke-linecap="butt"/>
<line x1="578.2" y1="409.2" x2="578.2" y2="414.8" stroke="#080808" stroke-width="2.18" stroke-linecap="butt"/>
<path d="M204.6 415.61 A3.5 3.5 0 0 0 201.1 419.09 L201.1 495.39 A3.5 3.5 0 0 0 204.6 498.91" fill="none" stroke="#080808" stroke-width="2.18" stroke-linejoin="round"/>
<path d="M577.5 414.52 A4 4 0 0 1 581.5 418.49 L581.5 493.69 A4 4 0 0 1 577.5 497.72" fill="none" stroke="#080808" stroke-width="3.22" stroke-linejoin="round"/>
<path d="M204.3 415.6 Q391.05 416.24 577.8 414.52" fill="none" stroke="#080808" stroke-width="1.67" stroke-linejoin="round"/>
<path d="M204.1 498.9 Q391.05 499.49 578 497.72" fill="none" stroke="#080808" stroke-width="3.33" stroke-linejoin="round"/>
<path d="M234.6 431.9 L206.4 432.1 L206.4 493.2 L234.6 493.0" fill="none" stroke="#080808" stroke-width="1.61" stroke-linejoin="miter"/>
<line x1="205.8" y1="432.1" x2="234.8" y2="431.9" stroke="#080808" stroke-width="2.53" stroke-linecap="butt"/>
<path d="M216.3 449.2 L223.4 449.2 A1.1 1.1 0 0 1 224.5 450.3 L224.5 450.5 A1.1 1.1 0 0 1 223.4 451.6 L216.3 451.6 A1.1 1.1 0 0 1 215.2 450.5 L215.2 450.3 A1.1 1.1 0 0 1 216.3 449.2 Z" fill="none" stroke="#080808" stroke-width="1.15" stroke-linejoin="round"/>
<circle cx="218.7" cy="475" r="5.3" fill="none" stroke="#080808" stroke-width="2.07"/>
<path d="M213.8 476.8 A5.3 5.3 0 0 0 223.6 476.8" fill="none" stroke="#080808" stroke-width="3.45" stroke-linejoin="round"/>
<line x1="236" y1="415.7" x2="236" y2="498.99" stroke="#aaa" stroke-width="1.72" stroke-linecap="butt"/>
<line x1="234.9" y1="415.7" x2="234.9" y2="498.99" stroke="#080808" stroke-width="1.49" stroke-linecap="butt"/>
<line x1="237" y1="415.7" x2="237" y2="498.99" stroke="#080808" stroke-width="1.61" stroke-linecap="butt"/>
<line x1="237" y1="481.33" x2="371.5" y2="481.07" stroke="#080808" stroke-width="1.49" stroke-linecap="butt"/>
<line x1="375.5" y1="481.74" x2="511.6" y2="481.46" stroke="#080808" stroke-width="1.49" stroke-linecap="butt"/>
<line x1="371.5" y1="415.7" x2="371.5" y2="498.96" stroke="#080808" stroke-width="1.38" stroke-linecap="butt"/>
<line x1="374.8" y1="415.69" x2="374.8" y2="498.95" stroke="#080808" stroke-width="2.30" stroke-linecap="butt"/>
<line x1="511.6" y1="415.06" x2="511.6" y2="498.28" stroke="#080808" stroke-width="1.38" stroke-linecap="butt"/>
<line x1="513.8" y1="415.03" x2="513.8" y2="498.25" stroke="#080808" stroke-width="3.45" stroke-linecap="butt"/>
<path d="M252.9 430 L356.7 430 Q358.9 430 360.1 432.2 Q372.96 454.1 360.1 476 Q358.9 478.2 356.7 478.2 L252.9 478.2 Q250.7 478.2 249.5 476 Q236.64 454.1 249.5 432.2 Q250.7 430 252.9 430 Z" fill="none" stroke="#080808" stroke-width="1.49" stroke-linejoin="round"/>
<line x1="259.5" y1="430" x2="259.5" y2="478.2" stroke="#080808" stroke-width="1.15" stroke-linecap="butt"/>
<line x1="350.5" y1="430" x2="350.5" y2="478.2" stroke="#080808" stroke-width="1.15" stroke-linecap="butt"/>
<path d="M270.4 440.8 L339.3 440.8 L339.3 468.4 L270.4 468.4 Z" fill="none" stroke="#080808" stroke-width="1.72" stroke-linejoin="round"/>
<path d="M282.75 445 L326.85 445 A9.050000000000011 9.050000000000011 0 0 1 335.9 454.05 L335.9 454.05 A9.050000000000011 9.050000000000011 0 0 1 326.85 463.1 L282.75 463.1 A9.050000000000011 9.050000000000011 0 0 1 273.7 454.05 L273.7 454.05 A9.050000000000011 9.050000000000011 0 0 1 282.75 445 Z" fill="none" stroke="#080808" stroke-width="1.15" stroke-linejoin="round"/>
<path d="M282.75 446.5 L326.85 446.5 A7.550000000000011 7.550000000000011 0 0 1 334.4 454.05 L334.4 454.05 A7.550000000000011 7.550000000000011 0 0 1 326.85 461.6 L282.75 461.6 A7.550000000000011 7.550000000000011 0 0 1 275.2 454.05 L275.2 454.05 A7.550000000000011 7.550000000000011 0 0 1 282.75 446.5 Z" fill="none" stroke="#080808" stroke-width="1.15" stroke-linejoin="round"/>
<circle cx="281.6" cy="453.9" r="6.2" fill="none" stroke="#080808" stroke-width="1.38"/>
<circle cx="327.8" cy="453.9" r="6.2" fill="none" stroke="#080808" stroke-width="1.38"/>
<path d="M291 449.4 L317.6 449.4 L317.6 458.5 L291 458.5 Z" fill="none" stroke="#080808" stroke-width="1.95" stroke-linejoin="round"/>
<path d="M391.7 429.9 L495.6 429.9 Q497.8 429.9 499 432.1 Q512.57 454.1 499 476.1 Q497.8 478.3 495.6 478.3 L391.7 478.3 Q389.5 478.3 388.3 476.1 Q376.15 454.1 388.3 432.1 Q389.5 429.9 391.7 429.9 Z" fill="none" stroke="#080808" stroke-width="1.49" stroke-linejoin="round"/>
<line x1="398.8" y1="429.9" x2="398.8" y2="478.3" stroke="#080808" stroke-width="1.15" stroke-linecap="butt"/>
<line x1="489.5" y1="429.9" x2="489.5" y2="478.3" stroke="#080808" stroke-width="1.15" stroke-linecap="butt"/>
<path d="M409.2 440.4 L478.7 440.4 L478.7 467.9 L409.2 467.9 Z" fill="none" stroke="#080808" stroke-width="1.72" stroke-linejoin="round"/>
<path d="M421.65 444.9 L465.75 444.9 A8.850000000000023 8.850000000000023 0 0 1 474.6 453.75 L474.6 453.75 A8.850000000000023 8.850000000000023 0 0 1 465.75 462.6 L421.65 462.6 A8.850000000000023 8.850000000000023 0 0 1 412.8 453.75 L412.8 453.75 A8.850000000000023 8.850000000000023 0 0 1 421.65 444.9 Z" fill="none" stroke="#080808" stroke-width="1.15" stroke-linejoin="round"/>
<path d="M421.65 446.4 L465.75 446.4 A7.350000000000023 7.350000000000023 0 0 1 473.1 453.75 L473.1 453.75 A7.350000000000023 7.350000000000023 0 0 1 465.75 461.1 L421.65 461.1 A7.350000000000023 7.350000000000023 0 0 1 414.3 453.75 L414.3 453.75 A7.350000000000023 7.350000000000023 0 0 1 421.65 446.4 Z" fill="none" stroke="#080808" stroke-width="1.15" stroke-linejoin="round"/>
<circle cx="421" cy="453.6" r="6.2" fill="none" stroke="#080808" stroke-width="1.38"/>
<circle cx="466.3" cy="453.6" r="6.2" fill="none" stroke="#080808" stroke-width="1.38"/>
<path d="M430.9 448.9 L457.4 448.9 L457.4 458.1 L430.9 458.1 Z" fill="none" stroke="#080808" stroke-width="1.95" stroke-linejoin="round"/>
<path d="M519.4 436.45 L573 436.35 A1.5 1.5 0 0 1 574.5 437.84 L574.5 456.74 A1.5 1.5 0 0 1 573 458.25 L519.4 458.35 A1.5 1.5 0 0 1 517.9 456.86 L517.9 437.96 A1.5 1.5 0 0 1 519.4 436.45 Z" fill="none" stroke="#080808" stroke-width="1.49" stroke-linejoin="round"/>
<line x1="519" y1="458.46" x2="574.5" y2="458.34" stroke="#080808" stroke-width="2.18" stroke-linecap="butt"/>
<line x1="574.5" y1="437.5" x2="574.5" y2="458.5" stroke="#080808" stroke-width="2.07" stroke-linecap="butt"/>
<path d="M523.8 440.52 L543.4 440.48 A1 1 0 0 1 544.4 441.48 L544.4 452.38 A1 1 0 0 1 543.4 453.38 L523.8 453.42 A1 1 0 0 1 522.8 452.42 L522.8 441.52 A1 1 0 0 1 523.8 440.52 Z" fill="none" stroke="#080808" stroke-width="1.72" stroke-linejoin="round"/>
<path d="M525.4 442.22 L541.8 442.18 A0.8 0.8 0 0 1 542.6 442.98 L542.6 450.88 A0.8 0.8 0 0 1 541.8 451.68 L525.4 451.72 A0.8 0.8 0 0 1 524.6 450.92 L524.6 443.02 A0.8 0.8 0 0 1 525.4 442.22 Z" fill="none" stroke="#080808" stroke-width="1.72" stroke-linejoin="round"/>
<path d="M550.2 441.32 L566.8 441.28 A0.8 0.8 0 0 1 567.6 442.08 L567.6 450.68 A0.8 0.8 0 0 1 566.8 451.48 L550.2 451.52 A0.8 0.8 0 0 1 549.4 450.72 L549.4 442.12 A0.8 0.8 0 0 1 550.2 441.32 Z" fill="none" stroke="#080808" stroke-width="1.49" stroke-linejoin="round"/>
<line x1="554.8" y1="441.3" x2="554.8" y2="451.5" stroke="#080808" stroke-width="2.53" stroke-linecap="butt"/>
<line x1="563.2" y1="441.3" x2="563.2" y2="451.5" stroke="#080808" stroke-width="2.53" stroke-linecap="butt"/>
<path d="M556.9 450 L556.9 442.9 L560.7 442.9 L560.7 450" fill="none" stroke="#080808" stroke-width="1.49" stroke-linejoin="miter"/>
<path d="M549.7 470.02 L566.3 469.98 A0.8 0.8 0 0 1 567.1 470.78 L567.1 479.78 A0.8 0.8 0 0 1 566.3 480.58 L549.7 480.62 A0.8 0.8 0 0 1 548.9 479.82 L548.9 470.82 A0.8 0.8 0 0 1 549.7 470.02 Z" fill="none" stroke="#080808" stroke-width="1.49" stroke-linejoin="round"/>
<line x1="554.3" y1="470" x2="554.3" y2="480.6" stroke="#080808" stroke-width="2.53" stroke-linecap="butt"/>
<line x1="562.7" y1="470" x2="562.7" y2="480.6" stroke="#080808" stroke-width="2.53" stroke-linecap="butt"/>
<path d="M556.4 479.1 L556.4 471.6 L560.2 471.6 L560.2 479.1" fill="none" stroke="#080808" stroke-width="1.49" stroke-linejoin="miter"/>
<circle cx="530.5" cy="474.9" r="5.2" fill="none" stroke="#080808" stroke-width="2.18"/>
<path d="M525.6 476.6 A5.2 5.2 0 0 0 535.4 476.6" fill="none" stroke="#080808" stroke-width="3.45" stroke-linejoin="round"/>
<line x1="203" y1="498.8" x2="203" y2="504.2" stroke="#080808" stroke-width="2.07" stroke-linecap="butt"/>
<line x1="578" y1="497.6" x2="578" y2="503.5" stroke="#080808" stroke-width="2.18" stroke-linecap="butt"/>
<path d="M203.9 504 A3.5 3.5 0 0 0 200.4 507.49 L200.4 539.29 A3.5 3.5 0 0 0 203.9 542.8" fill="none" stroke="#080808" stroke-width="2.18" stroke-linejoin="round"/>
<path d="M577.4 503.32 A4 4 0 0 1 581.4 507.29 L581.4 537.99 A4 4 0 0 1 577.4 542.02" fill="none" stroke="#080808" stroke-width="2.99" stroke-linejoin="round"/>
<path d="M203.6 504 Q390.65 504.84 577.7 503.32" fill="none" stroke="#080808" stroke-width="1.67" stroke-linejoin="round"/>
<path d="M203.4 542.8 Q390.65 543.59 577.9 542.02" fill="none" stroke="#080808" stroke-width="3.45" stroke-linejoin="round"/>
<path d="M200.8 530.99 Q390.9 532.01 581 530.59" fill="none" stroke="#080808" stroke-width="1.49" stroke-linejoin="round"/>
<path d="M247.6 512.46 L361.1 512.34 A0.8 0.8 0 0 1 361.9 513.14 L361.9 537.14 A0.8 0.8 0 0 1 361.1 537.94 L247.6 538.06 A0.8 0.8 0 0 1 246.8 537.26 L246.8 513.26 A0.8 0.8 0 0 1 247.6 512.46 Z" fill="none" stroke="#080808" stroke-width="1.49" stroke-linejoin="round"/>
<line x1="265.5" y1="512.4" x2="265.5" y2="538" stroke="#080808" stroke-width="1.15" stroke-linecap="butt"/>
<line x1="266.9" y1="512.4" x2="266.9" y2="538" stroke="#080808" stroke-width="1.15" stroke-linecap="butt"/>
<line x1="284.2" y1="512.4" x2="284.2" y2="538" stroke="#080808" stroke-width="1.15" stroke-linecap="butt"/>
<line x1="285.6" y1="512.4" x2="285.6" y2="538" stroke="#080808" stroke-width="1.15" stroke-linecap="butt"/>
<line x1="303.3" y1="512.4" x2="303.3" y2="538" stroke="#080808" stroke-width="1.15" stroke-linecap="butt"/>
<line x1="304.7" y1="512.4" x2="304.7" y2="538" stroke="#080808" stroke-width="1.15" stroke-linecap="butt"/>
<line x1="322" y1="512.4" x2="322" y2="538" stroke="#080808" stroke-width="1.15" stroke-linecap="butt"/>
<line x1="323.4" y1="512.4" x2="323.4" y2="538" stroke="#080808" stroke-width="1.15" stroke-linecap="butt"/>
<line x1="340.5" y1="512.4" x2="340.5" y2="538" stroke="#080808" stroke-width="1.15" stroke-linecap="butt"/>
<line x1="341.9" y1="512.4" x2="341.9" y2="538" stroke="#080808" stroke-width="1.15" stroke-linecap="butt"/>
<line x1="247.3" y1="538.26" x2="361.9" y2="538.14" stroke="#080808" stroke-width="2.18" stroke-linecap="butt"/>
<path d="M386.4 512.26 L499.9 512.14 A0.8 0.8 0 0 1 500.7 512.94 L500.7 537.14 A0.8 0.8 0 0 1 499.9 537.94 L386.4 538.06 A0.8 0.8 0 0 1 385.6 537.26 L385.6 513.06 A0.8 0.8 0 0 1 386.4 512.26 Z" fill="none" stroke="#080808" stroke-width="1.49" stroke-linejoin="round"/>
<line x1="423.3" y1="512.2" x2="423.3" y2="538" stroke="#080808" stroke-width="1.15" stroke-linecap="butt"/>
<line x1="424.7" y1="512.2" x2="424.7" y2="538" stroke="#080808" stroke-width="1.15" stroke-linecap="butt"/>
<line x1="442.3" y1="512.2" x2="442.3" y2="538" stroke="#080808" stroke-width="1.15" stroke-linecap="butt"/>
<line x1="443.7" y1="512.2" x2="443.7" y2="538" stroke="#080808" stroke-width="1.15" stroke-linecap="butt"/>
<line x1="461.4" y1="512.2" x2="461.4" y2="538" stroke="#080808" stroke-width="1.15" stroke-linecap="butt"/>
<line x1="462.8" y1="512.2" x2="462.8" y2="538" stroke="#080808" stroke-width="1.15" stroke-linecap="butt"/>
<line x1="479.9" y1="512.2" x2="479.9" y2="538" stroke="#080808" stroke-width="1.15" stroke-linecap="butt"/>
<line x1="481.3" y1="512.2" x2="481.3" y2="538" stroke="#080808" stroke-width="1.15" stroke-linecap="butt"/>
<line x1="386.1" y1="538.26" x2="500.7" y2="538.14" stroke="#080808" stroke-width="2.18" stroke-linecap="butt"/>
<circle cx="578.4" cy="518.3" r="1.2" fill="#080808" stroke="#080808" stroke-width="0.57"/>
<line x1="203.6" y1="542.6" x2="203.6" y2="548.6" stroke="#080808" stroke-width="2.07" stroke-linecap="butt"/>
<line x1="578.4" y1="541.8" x2="578.4" y2="547.6" stroke="#080808" stroke-width="2.18" stroke-linecap="butt"/>
<path d="M204.9 548.31 A4.5 4.5 0 0 0 200.4 552.79 L200.4 627.88 A8 8 0 0 0 208.4 635.95" fill="none" stroke="#080808" stroke-width="2.42" stroke-linejoin="round"/>
<path d="M577.2 547.23 A5 5 0 0 1 582.2 552.18 L582.2 630.89 A6 6 0 0 1 576.2 636.91" fill="none" stroke="#080808" stroke-width="3.22" stroke-linejoin="round"/>
<path d="M204.6 548.31 Q391.05 548.94 577.5 547.22" fill="none" stroke="#080808" stroke-width="1.95" stroke-linejoin="round"/>
<path d="M207.9 635.94 Q392.3 637.58 576.7 636.91" fill="none" stroke="#080808" stroke-width="3.79" stroke-linejoin="round"/>
<line x1="218.6" y1="548.4" x2="217.4" y2="635" stroke="#080808" stroke-width="1.15" stroke-linecap="butt"/>
<line x1="220.8" y1="548.4" x2="219.8" y2="635" stroke="#080808" stroke-width="1.38" stroke-linecap="butt"/>
<line x1="221.2" y1="565.6" x2="367.6" y2="565.2" stroke="#080808" stroke-width="1.95" stroke-linecap="butt"/>
<path d="M227.0 566 L226.7 597.0 L367.6 597.0" fill="none" stroke="#080808" stroke-width="2.18" stroke-linejoin="miter"/>
<line x1="221" y1="600.9" x2="367.6" y2="600.9" stroke="#080808" stroke-width="1.15" stroke-linecap="butt"/>
<line x1="223.2" y1="566" x2="223.2" y2="600.9" stroke="#080808" stroke-width="1.15" stroke-linecap="butt"/>
<line x1="367.8" y1="548.6" x2="367.8" y2="635.5" stroke="#080808" stroke-width="1.26" stroke-linecap="butt"/>
<line x1="371.8" y1="548.6" x2="371.8" y2="635.5" stroke="#080808" stroke-width="2.53" stroke-linecap="butt"/>
<line x1="572.6" y1="547.6" x2="572.6" y2="636" stroke="#080808" stroke-width="1.26" stroke-linecap="butt"/>
<line x1="575.9" y1="547.6" x2="575.9" y2="636" stroke="#080808" stroke-width="1.38" stroke-linecap="butt"/>
<path d="M374.4 550.1 L570.7 549.9 A1.5 1.5 0 0 1 572.2 551.4 L572.2 555.8 A1.5 1.5 0 0 1 570.7 557.3 L374.4 557.5 A1.5 1.5 0 0 1 372.9 556 L372.9 551.6 A1.5 1.5 0 0 1 374.4 550.1 Z" fill="none" stroke="#080808" stroke-width="1.15" stroke-linejoin="round"/>
<line x1="372.9" y1="557.8" x2="572.2" y2="557.4" stroke="#080808" stroke-width="2.53" stroke-linecap="butt"/>
<line x1="372.9" y1="594.9" x2="572.4" y2="594.7" stroke="#080808" stroke-width="1.15" stroke-linecap="butt"/>
<line x1="372.9" y1="600.3" x2="572.4" y2="599.6" stroke="#080808" stroke-width="2.53" stroke-linecap="butt"/>
<path d="M427.4 566.17 L560.7 566.03 A1.5 1.5 0 0 1 562.2 567.53 L562.2 585.63 A1.5 1.5 0 0 1 560.7 587.13 L427.4 587.27 A1.5 1.5 0 0 1 425.9 585.77 L425.9 567.67 A1.5 1.5 0 0 1 427.4 566.17 Z" fill="none" stroke="#080808" stroke-width="2.18" stroke-linejoin="round"/>
<line x1="372.5" y1="617.2" x2="572.4" y2="616.9" stroke="#080808" stroke-width="3.22" stroke-linecap="butt"/>
<line x1="421.8" y1="600.6" x2="421.8" y2="616.5" stroke="#080808" stroke-width="1.95" stroke-linecap="butt"/>
<line x1="454.2" y1="600.6" x2="454.2" y2="616.5" stroke="#080808" stroke-width="1.95" stroke-linecap="butt"/>
<line x1="484.4" y1="600.6" x2="484.4" y2="616.5" stroke="#080808" stroke-width="1.95" stroke-linecap="butt"/>
<line x1="517.5" y1="600.6" x2="517.5" y2="616.5" stroke="#080808" stroke-width="1.95" stroke-linecap="butt"/>
<path d="M374 625 L482.6 625 A0.8 0.8 0 0 1 483.4 625.8 L483.4 631.4 A0.8 0.8 0 0 1 482.6 632.2 L374 632.2 A0.8 0.8 0 0 1 373.2 631.4 L373.2 625.8 A0.8 0.8 0 0 1 374 625 Z" fill="#080808" stroke="#080808" stroke-width="1.15" stroke-linejoin="round"/>
<rect x="373.9" y="626.2" width="11.1" height="5.0" rx="1.3" fill="#fff"/>
<rect x="387.4" y="626.2" width="11.2" height="5.0" rx="1.3" fill="#fff"/>
<rect x="400.5" y="626.2" width="13.4" height="5.0" rx="1.3" fill="#fff"/>
<rect x="416.4" y="626.2" width="31.9" height="5.0" rx="1.3" fill="#fff"/>
<rect x="450.6" y="626.2" width="32.1" height="5.0" rx="1.3" fill="#fff"/>
<line x1="484.5" y1="617.5" x2="484.5" y2="634.6" stroke="#080808" stroke-width="1.72" stroke-linecap="butt"/>
<line x1="517.5" y1="617.5" x2="517.5" y2="634.6" stroke="#080808" stroke-width="1.84" stroke-linecap="butt"/>
<line x1="484.5" y1="632.9" x2="572.4" y2="633.1" stroke="#080808" stroke-width="1.03" stroke-linecap="butt"/>
<path d="M245.2 637 L245.2 642.8 L264.9 642.8 L264.9 637" fill="none" stroke="#080808" stroke-width="1.84" stroke-linejoin="miter"/>
<path d="M520.8 638 L520.8 643.8 L538.5 643.8 L538.5 638" fill="none" stroke="#080808" stroke-width="1.84" stroke-linejoin="miter"/>
<line x1="256.6" y1="195" x2="256.6" y2="287.9" stroke="#080808" stroke-width="0.99" stroke-linecap="butt"/>
<line x1="308.3" y1="196" x2="308.3" y2="295" stroke="#080808" stroke-width="0.99" stroke-linecap="butt"/>
<line x1="383.9" y1="196" x2="383.9" y2="294.4" stroke="#080808" stroke-width="0.99" stroke-linecap="butt"/>
<line x1="451.5" y1="195" x2="451.5" y2="284" stroke="#080808" stroke-width="0.99" stroke-linecap="butt"/>
<line x1="155.6" y1="305.9" x2="212.5" y2="305.7" stroke="#080808" stroke-width="0.99" stroke-linecap="butt"/>
<path d="M155.6 324.0 L256.0 323.5 L256.0 307.9" fill="none" stroke="#080808" stroke-width="0.99" stroke-linejoin="miter"/>
<line x1="155.2" y1="365" x2="271" y2="364.6" stroke="#080808" stroke-width="0.99" stroke-linecap="butt"/>
<line x1="155.2" y1="381.5" x2="211.7" y2="381.3" stroke="#080808" stroke-width="0.99" stroke-linecap="butt"/>
<path d="M155.2 406.4 L309.3 405.8 L309.3 390.9" fill="none" stroke="#080808" stroke-width="0.99" stroke-linejoin="miter"/>
<line x1="155.2" y1="450.7" x2="215.2" y2="450.5" stroke="#080808" stroke-width="0.99" stroke-linecap="butt"/>
<line x1="155.2" y1="475.5" x2="218.6" y2="475.3" stroke="#080808" stroke-width="0.99" stroke-linecap="butt"/>
<line x1="154.6" y1="508" x2="351.5" y2="507.9" stroke="#080808" stroke-width="0.99" stroke-linecap="butt"/>
<line x1="254.6" y1="507.9" x2="254.6" y2="521.8" stroke="#080808" stroke-width="0.99" stroke-linecap="butt"/>
<line x1="274.9" y1="507.9" x2="274.9" y2="521.8" stroke="#080808" stroke-width="0.99" stroke-linecap="butt"/>
<line x1="293" y1="507.9" x2="293" y2="521.8" stroke="#080808" stroke-width="0.99" stroke-linecap="butt"/>
<line x1="311.7" y1="507.9" x2="311.7" y2="521.8" stroke="#080808" stroke-width="0.99" stroke-linecap="butt"/>
<line x1="330.8" y1="507.9" x2="330.8" y2="521.8" stroke="#080808" stroke-width="0.99" stroke-linecap="butt"/>
<line x1="351.5" y1="507.9" x2="351.5" y2="521.8" stroke="#080808" stroke-width="0.99" stroke-linecap="butt"/>
<line x1="559" y1="296.3" x2="633.9" y2="296.3" stroke="#080808" stroke-width="0.99" stroke-linecap="butt"/>
<path d="M425.6 347 L425.6 321.0 L633.9 319.6" fill="none" stroke="#080808" stroke-width="0.99" stroke-linejoin="miter"/>
<path d="M491.9 347 L491.9 336.5 L633.0 335.5" fill="none" stroke="#080808" stroke-width="0.99" stroke-linejoin="miter"/>
<path d="M546.4 377.6 L546.4 361.4 L633.0 361.2" fill="none" stroke="#080808" stroke-width="0.99" stroke-linejoin="miter"/>
<path d="M557.5 436.5 L557.5 427.3 L633.9 427.0" fill="none" stroke="#080808" stroke-width="0.99" stroke-linejoin="miter"/>
<path d="M533.4 449.0 L533.4 460.3 L633.9 460.1" fill="none" stroke="#080808" stroke-width="0.99" stroke-linejoin="miter"/>
<line x1="567.5" y1="475.9" x2="633.9" y2="475.9" stroke="#080808" stroke-width="0.99" stroke-linecap="butt"/>
<path d="M530.5 480.8 L530.5 494.3 L633.9 494.0" fill="none" stroke="#080808" stroke-width="0.99" stroke-linejoin="miter"/>
<line x1="405.7" y1="507.8" x2="633.9" y2="507.7" stroke="#080808" stroke-width="0.99" stroke-linecap="butt"/>
<line x1="405.7" y1="507.8" x2="405.7" y2="519.6" stroke="#080808" stroke-width="0.99" stroke-linecap="butt"/>
<line x1="433.2" y1="507.8" x2="433.2" y2="519.6" stroke="#080808" stroke-width="0.99" stroke-linecap="butt"/>
<line x1="452.1" y1="507.8" x2="452.1" y2="519.6" stroke="#080808" stroke-width="0.99" stroke-linecap="butt"/>
<line x1="470.8" y1="507.8" x2="470.8" y2="519.6" stroke="#080808" stroke-width="0.99" stroke-linecap="butt"/>
<line x1="490.5" y1="507.8" x2="490.5" y2="519.6" stroke="#080808" stroke-width="0.99" stroke-linecap="butt"/>
<line x1="438.7" y1="553.3" x2="633.9" y2="552.8" stroke="#080808" stroke-width="0.99" stroke-linecap="butt"/>
<line x1="438.6" y1="553.3" x2="438.6" y2="608.6" stroke="#080808" stroke-width="0.99" stroke-linecap="butt"/>
<line x1="470" y1="553.2" x2="470" y2="608.6" stroke="#080808" stroke-width="0.99" stroke-linecap="butt"/>
<line x1="548" y1="576.7" x2="633.9" y2="576.6" stroke="#080808" stroke-width="0.99" stroke-linecap="butt"/>
<line x1="549.8" y1="607.6" x2="633.9" y2="607.6" stroke="#080808" stroke-width="0.99" stroke-linecap="butt"/>
<line x1="308.5" y1="583" x2="308.5" y2="689" stroke="#080808" stroke-width="0.99" stroke-linecap="butt"/>
<path d="M393.5 609.8 L342.8 610.0 L342.5 689.0" fill="none" stroke="#080808" stroke-width="0.99" stroke-linejoin="miter"/>
<line x1="378.2" y1="629" x2="378.2" y2="689" stroke="#080808" stroke-width="0.99" stroke-linecap="butt"/>
<line x1="392.4" y1="629" x2="392.4" y2="667.4" stroke="#080808" stroke-width="0.99" stroke-linecap="butt"/>
<line x1="407.3" y1="629" x2="407.3" y2="686.3" stroke="#080808" stroke-width="0.99" stroke-linecap="butt"/>
<path d="M432.5 629.5 L432.5 656.9 L466.6 656.9 L466.6 629.5" fill="none" stroke="#080808" stroke-width="0.99" stroke-linejoin="miter"/>
<line x1="449.8" y1="656.9" x2="449.8" y2="686.3" stroke="#080808" stroke-width="0.99" stroke-linecap="butt"/>
<line x1="495.5" y1="609.8" x2="495.5" y2="686.3" stroke="#080808" stroke-width="0.99" stroke-linecap="butt"/>
<line x1="554" y1="625.9" x2="554" y2="685.1" stroke="#080808" stroke-width="0.99" stroke-linecap="butt"/>
</svg>
<div id="tx">
<div class="ln title" style="top:115.75px;transform-origin:96px 16px"><span class="p tb" style="left:95.90px;transform-origin:0 0;transform:scaleX(0.8635)">2-3</span><span class="p tb" style="left:123.07px;transform-origin:0 0;transform:scaleX(0.9269)">FEATURE</span><span class="p tb" style="left:199.90px;transform-origin:0 0;transform:scaleX(0.8662)">OR</span><span class="p tb" style="left:229.80px;transform-origin:0 0;transform:scaleX(0.9013)">FIGURE</span><span class="p ts" style="left:292.80px;transform-origin:0 0;transform:scaleX(0.9826)">(FRONT)</span></div>
<div class="ln li" style="top:775.61px;transform-origin:121.4px 12px"><span class="n" style="left:83.00px">1.</span><span class="p " style="left:121.10px;--x:0.337px;letter-spacing:0.337px;word-spacing:1.30px;"><span class="u">TUNED I</span>ndicator</span></div>
<div class="ln li" style="top:790.76px;transform-origin:121.4px 12px"><span class="n" style="left:83.00px">2.</span><span class="p " style="left:121.10px;--x:0.297px;letter-spacing:0.297px;word-spacing:1.30px;"><span class="u">STEREO I</span>ndicator</span></div>
<div class="ln li" style="top:805.91px;transform-origin:121.4px 12px"><span class="n" style="left:83.00px">3.</span><span class="p " style="left:121.10px;--x:0.157px;letter-spacing:0.157px;word-spacing:1.30px;"><span class="u">LC </span>(<span class="u">L</span>iquid <span class="u">C</span>rystal) <span class="u">D</span>isplay</span></div>
<div class="ln li" style="top:821.06px;transform-origin:121.4px 12px"><span class="n" style="left:83.00px">4.</span><span class="p " style="left:121.10px;--x:0.354px;letter-spacing:0.354px;word-spacing:1.30px;"><span class="u">MEMORY B</span>utton</span></div>
<div class="ln li" style="top:836.21px;transform-origin:121.4px 12px"><span class="n" style="left:83.00px">5.</span><span class="p " style="left:121.10px;--x:0.301px;letter-spacing:0.301px;word-spacing:1.30px;"><span class="u">PRESET STATION B</span>uttons</span></div>
<div class="ln li" style="top:851.36px;transform-origin:121.4px 12px"><span class="n" style="left:83.00px">6.</span><span class="p " style="left:121.10px;--x:0.447px;letter-spacing:0.447px;word-spacing:1.30px;"><span class="u">FM MONO/STEREO/BEAT CUT S</span>witch</span></div>
<div class="ln li" style="top:866.51px;transform-origin:121.4px 12px"><span class="n" style="left:83.00px">7.</span><span class="p " style="left:121.10px;--x:0.491px;letter-spacing:0.491px;word-spacing:1.30px;"><span class="u">TUNING UP/DOWN B</span>utton</span></div>
<div class="ln li" style="top:881.66px;transform-origin:121.4px 12px"><span class="n" style="left:83.00px">8.</span><span class="p " style="left:121.10px;--x:0.169px;letter-spacing:0.169px;word-spacing:1.30px;"><span class="u">L</span>evel <span class="u">I</span>ndicator</span></div>
<div class="ln li" style="top:896.81px;transform-origin:121.4px 12px"><span class="n" style="left:83.00px">9.</span><span class="p " style="left:121.10px;--x:0.277px;letter-spacing:0.277px;word-spacing:1.30px;"><span class="u">D</span>eck <span class="u">I C</span>ontrol <span class="u">B</span>uttons</span></div>
<div class="ln li" style="top:911.96px;transform-origin:121.4px 12px"><span class="n" style="left:83.00px">10.</span><span class="p " style="left:121.10px;--x:0.288px;letter-spacing:0.288px;word-spacing:1.30px;"><span class="u">D</span>eck <span class="u">II C</span>ontrol <span class="u">B</span>uttons</span></div>
<div class="ln li" style="top:927.11px;transform-origin:121.4px 12px"><span class="n" style="left:83.00px">11.</span><span class="p " style="left:121.10px;--x:0.394px;letter-spacing:0.394px;word-spacing:1.30px;"><span class="u">POWER ON/OFF S</span>witch</span></div>
<div class="ln li" style="top:942.26px;transform-origin:121.4px 12px"><span class="n" style="left:83.00px">12.</span><span class="p " style="left:121.10px;--x:0.251px;letter-spacing:0.251px;word-spacing:1.30px;"><span class="u">5 B</span>and <span class="u">G</span>raphic <span class="u">E</span>qualizer <span class="u">C</span>ontrols</span></div>
<div class="ln li" style="top:957.41px;transform-origin:121.4px 12px"><span class="n" style="left:83.00px">13.</span><span class="p " style="left:121.10px;--x:0.328px;letter-spacing:0.328px;word-spacing:1.30px;"><span class="u">BALANCE C</span>ontrol</span></div>
<div class="ln li" style="top:972.56px;transform-origin:121.4px 12px"><span class="n" style="left:83.00px">14.</span><span class="p " style="left:121.10px;--x:0.308px;letter-spacing:0.308px;word-spacing:1.30px;"><span class="u">VOLUME C</span>ontrol</span></div>
<div class="ln li" style="top:987.71px;transform-origin:121.4px 12px"><span class="n" style="left:83.00px">15.</span><span class="p " style="left:121.10px;--x:0.327px;letter-spacing:0.327px;word-spacing:1.30px;"><span class="u">INPUT SELECTOR B</span>uttons</span></div>
<div class="ln li" style="top:1002.86px;transform-origin:121.4px 12px"><span class="n" style="left:83.00px">16.</span><span class="p " style="left:121.10px;--x:0.266px;letter-spacing:0.266px;word-spacing:1.30px;"><span class="u">REC </span>(<span class="u">R</span>ecord) <span class="u">I</span>ndicator</span></div>
<div class="ln li lr" style="top:774.01px;transform-origin:476.8px 12px"><span class="n" style="left:439.05px">17.</span><span class="p " style="left:476.50px;--x:0.355px;letter-spacing:0.355px;word-spacing:1.30px;"><span class="u">PHONES J</span>ack</span></div>
<div class="ln li lr" style="top:789.10px;transform-origin:476.8px 12px"><span class="n" style="left:439.05px">18.</span><span class="p " style="left:476.50px;--x:0.215px;letter-spacing:0.215px;word-spacing:1.30px;"><span class="u">TAPE SELECTOR S</span>witch</span></div>
<div class="ln li lr" style="top:804.19px;transform-origin:476.8px 12px"><span class="n" style="left:439.05px">19.</span><span class="p " style="left:476.50px;--x:0.229px;letter-spacing:0.229px;word-spacing:1.30px;"><span class="u">REMOTE SENSOR W</span>indow</span></div>
<div class="ln li lr" style="top:819.28px;transform-origin:476.8px 12px"><span class="n" style="left:439.05px">20.</span><span class="p " style="left:476.50px;--x:0.304px;letter-spacing:0.304px;word-spacing:1.30px;"><span class="u">MIC J</span>ack</span></div>
<div class="ln li lr" style="top:834.37px;transform-origin:476.8px 12px"><span class="n" style="left:439.05px">21.</span><span class="p " style="left:476.50px;--x:0.041px;letter-spacing:0.041px;word-spacing:1.30px;"><span class="u">DUBBING S</span>witch</span></div>
<div class="ln li lr" style="top:849.46px;transform-origin:476.8px 12px"><span class="n" style="left:439.05px">22.</span><span class="p " style="left:476.50px;--x:0.021px;letter-spacing:0.021px;word-spacing:1.30px;"><span class="u">D</span>isc <span class="u">D</span>rawer</span></div>
<div class="ln li lr" style="top:864.55px;transform-origin:476.8px 12px"><span class="n" style="left:439.05px">23.</span><span class="p " style="left:476.50px;--x:0.475px;letter-spacing:0.475px;word-spacing:1.30px;"><span class="u">OPEN/CLOSE</span></span><svg class="sy" style="left:571.40px;top:6.69px" width="9.8" height="6.4" viewBox="0 0 9.8 6.4"><path d="M4.9 0 L9.8 3.7 H0 Z M0 4.6 H9.8 V6.4 H0 Z" fill="#0c0c0c"/></svg><span class="p " style="left:588.80px;--x:0.166px;letter-spacing:0.166px;word-spacing:1.30px;"><span class="u">B</span>utton</span></div>
<div class="ln li lr" style="top:879.64px;transform-origin:476.8px 12px"><span class="n" style="left:439.05px">24.</span><span class="p " style="left:476.50px;--x:0.394px;letter-spacing:0.394px;word-spacing:1.30px;"><span class="u">REPEAT B</span>utton</span></div>
<div class="ln li lr" style="top:894.73px;transform-origin:476.8px 12px"><span class="n" style="left:439.05px">25.</span><span class="p " style="left:476.50px;--x:0.287px;letter-spacing:0.287px;word-spacing:1.30px;"><span class="u">MODE B</span>utton</span></div>
<div class="ln li lr" style="top:909.82px;transform-origin:476.8px 12px"><span class="n" style="left:439.05px">26.</span><span class="p " style="left:476.50px;--x:0.352px;letter-spacing:0.352px;word-spacing:1.30px;"><span class="u">PROGRAM B</span>utton</span></div>
<div class="ln li lr" style="top:924.91px;transform-origin:476.8px 12px"><span class="n" style="left:439.05px">27.</span><span class="p " style="left:476.50px;--x:0.283px;letter-spacing:0.283px;word-spacing:1.30px;"><span class="u">S</span>earch<span class="u">/I</span>ndex</span><span class="p " style="left:557.70px;--x:0.000px;letter-spacing:0.000px;word-spacing:1.30px;">(</span><svg class="sy" style="left:565.20px;top:4.29px" width="20.8" height="7.5" viewBox="0 0 20.8 7.5"><path d="M0 3.75 L10.8 0 V7.5 Z M10 3.75 L20.8 0 V7.5 Z " fill="#0c0c0c"/></svg><svg class="sy" style="left:589.00px;top:4.09px" width="9.0" height="8.0" viewBox="0 0 9.0 8.0"><path d="M0 8 L6.4 0 H9 L2.6 8 Z" fill="#0c0c0c"/></svg><svg class="sy" style="left:599.70px;top:4.29px" width="20.8" height="7.5" viewBox="0 0 20.8 7.5"><path d="M10.8 3.75 L0 0 V7.5 Z M20.8 3.75 L10 0 V7.5 Z " fill="#0c0c0c"/></svg><span class="p " style="left:622.40px;--x:0.000px;letter-spacing:0.000px;word-spacing:1.30px;">)</span><span class="p " style="left:632.10px;--x:0.156px;letter-spacing:0.156px;word-spacing:1.30px;"><span class="u">B</span>uttons</span></div>
<div class="ln li lr" style="top:940.00px;transform-origin:476.8px 12px"><span class="n" style="left:439.05px">28.</span><span class="p " style="left:476.50px;--x:-0.030px;letter-spacing:-0.030px;word-spacing:1.30px;"><span class="u">S</span>kip</span><span class="p " style="left:506.20px;--x:0.000px;letter-spacing:0.000px;word-spacing:1.30px;">(</span><svg class="sy" style="left:511.00px;top:3.49px" width="23.4" height="8.6" viewBox="0 0 23.4 8.6"><path d="M0 0 H1.5 V8.6 H0 Z M1.6 4.3 L12.799999999999999 0.5 V8.1 Z M12.2 4.3 L23.4 0.5 V8.1 Z " fill="#0c0c0c"/></svg><svg class="sy" style="left:538.60px;top:3.79px" width="9.0" height="8.0" viewBox="0 0 9.0 8.0"><path d="M0 8 L6.4 0 H9 L2.6 8 Z" fill="#0c0c0c"/></svg><svg class="sy" style="left:551.10px;top:3.49px" width="23.4" height="8.6" viewBox="0 0 23.4 8.6"><path d="M11.2 4.3 L0 0.5 V8.1 Z M21.799999999999997 4.3 L10.6 0.5 V8.1 Z M21.9 0 H23.4 V8.6 H21.9 Z" fill="#0c0c0c"/></svg><span class="p " style="left:574.50px;--x:0.000px;letter-spacing:0.000px;word-spacing:1.30px;">)</span><span class="p " style="left:583.40px;--x:0.156px;letter-spacing:0.156px;word-spacing:1.30px;"><span class="u">B</span>uttons</span></div>
<div class="ln li lr" style="top:955.09px;transform-origin:476.8px 12px"><span class="n" style="left:439.05px">29.</span><span class="p " style="left:476.50px;--x:0.157px;letter-spacing:0.157px;word-spacing:1.30px;"><span class="u">LC </span>(<span class="u">L</span>iquid <span class="u">C</span>rystal) <span class="u">D</span>isplay</span></div>
<div class="ln li lr" style="top:970.18px;transform-origin:476.8px 12px"><span class="n" style="left:439.05px">30.</span><span class="p " style="left:476.50px;--x:0.058px;letter-spacing:0.058px;word-spacing:1.30px;"><span class="u">P</span>lay</span><svg class="sy" style="left:507.20px;top:3.79px" width="11.1" height="7.5" viewBox="0 0 11.1 7.5"><path d="M0 0 L11.1 3.75 L0 7.5 Z" fill="#0c0c0c"/></svg><span class="p " style="left:525.20px;--x:0.166px;letter-spacing:0.166px;word-spacing:1.30px;"><span class="u">B</span>utton</span></div>
<div class="ln li lr" style="top:985.27px;transform-origin:476.8px 12px"><span class="n" style="left:439.05px">31.</span><span class="p " style="left:476.50px;--x:0.181px;letter-spacing:0.181px;word-spacing:1.30px;"><span class="u">P</span>ause</span><svg class="sy" style="left:514.70px;top:3.59px" width="13.5" height="8.2" viewBox="0 0 13.5 8.2"><path d="M0 0 H6 V8.1 H0 Z M7.5 0 H13.5 V8.1 H7.5 Z" fill="#0c0c0c"/></svg><span class="p " style="left:535.50px;--x:0.286px;letter-spacing:0.286px;word-spacing:1.30px;"><span class="u">B</span>utton</span></div>
<div class="ln li lr" style="top:1000.36px;transform-origin:476.8px 12px"><span class="n" style="left:439.05px">32.</span><span class="p " style="left:476.50px;--x:-0.030px;letter-spacing:-0.030px;word-spacing:1.30px;"><span class="u">S</span>top</span><svg class="sy" style="left:508.60px;top:3.89px" width="17.5" height="8.3" viewBox="0 0 17.5 8.3"><path d="M0 0 H17.3 V8.2 H0 Z" fill="#0c0c0c"/></svg><span class="p " style="left:533.50px;--x:0.246px;letter-spacing:0.246px;word-spacing:1.30px;"><span class="u">B</span>utton</span></div>
<div class="ln foot" style="top:1072.00px;transform-origin:335px 12px"><span class="p ft" style="left:334.90px;--x:0.295px;letter-spacing:0.295px;word-spacing:0.00px;">SERVICE MANUAL</span></div>
<div class="t pg" style="left:76.7px;top:1087.4px">6</div>
<div class="c" style="left:256.8px;top:188.2px">2</div>
<div class="c" style="left:308.2px;top:189.1px">3</div>
<div class="c" style="left:383.8px;top:189.2px">4</div>
<div class="c" style="left:451.5px;top:187.2px">5</div>
<div class="c" style="left:149.7px;top:306.5px">6</div>
<div class="c" style="left:149.9px;top:325.7px">1</div>
<div class="c" style="left:150.1px;top:364.6px">8</div>
<div class="c" style="left:146px;top:382.8px">11</div>
<div class="c" style="left:145.8px;top:406.7px">15</div>
<div class="c" style="left:145.2px;top:450.3px">16</div>
<div class="c" style="left:145.2px;top:475.1px">17</div>
<div class="c" style="left:143.5px;top:508px">10</div>
<div class="c" style="left:641.2px;top:296.6px">7</div>
<div class="c" style="left:642.3px;top:319.3px">12</div>
<div class="c" style="left:642.6px;top:336.2px">13</div>
<div class="c" style="left:642.8px;top:361.2px">14</div>
<div class="c" style="left:643px;top:426.6px">18</div>
<div class="c" style="left:643px;top:459.8px">19</div>
<div class="c" style="left:643px;top:476.4px">21</div>
<div class="c" style="left:643px;top:493.5px">20</div>
<div class="c" style="left:640.6px;top:508.8px">9</div>
<div class="c" style="left:643.2px;top:552.8px">28</div>
<div class="c" style="left:643.8px;top:577.9px">29</div>
<div class="c" style="left:644.7px;top:607.5px">30</div>
<div class="c" style="left:307.4px;top:698.3px">22</div>
<div class="c" style="left:341.8px;top:697.9px">23</div>
<div class="c" style="left:377.3px;top:697.6px">24</div>
<div class="c" style="left:392.8px;top:678.4px">25</div>
<div class="c" style="left:407.4px;top:697.2px">26</div>
<div class="c" style="left:450.1px;top:697.2px">27</div>
<div class="c" style="left:495.6px;top:697.1px">31</div>
<div class="c" style="left:554.6px;top:696.5px">32</div>
</div>
</body></html>
